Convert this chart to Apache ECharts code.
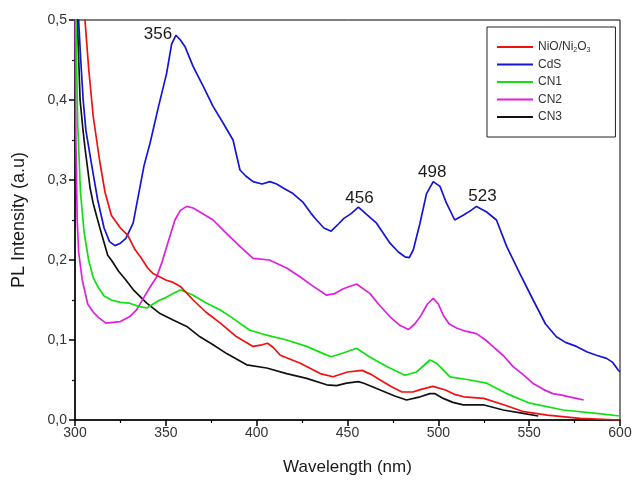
<!DOCTYPE html>
<html>
<head>
<meta charset="utf-8">
<script src="https://cdn.jsdelivr.net/npm/echarts@6/dist/echarts.min.js"></script>
<style>html,body{margin:0;padding:0;background:#fff}#c{width:635px;height:482px}</style>
</head>
<body>
<div id="c"></div>
<script>
// ---- data (wavelength nm, PL intensity a.u.) ----
var seriesNames = ['NiO/Ni2O3', 'CdS', 'CN1', 'CN2', 'CN3'];
var xTicks = [300, 350, 400, 450, 500, 550, 600];
var yTicks = [0.0, 0.1, 0.2, 0.3, 0.4, 0.5];

var nioData = [
  [300,0.66],[303,0.56],[305.5,0.5],[307.5,0.44],[310,0.38],[313.5,0.325],[316.5,0.285],[320,0.256],
  [325,0.24],[329,0.231],[333,0.213],[336,0.204],[340,0.19],[343,0.183],[350,0.175],[354,0.172],[358,0.167],
  [365,0.15],[372,0.135],[380,0.121],[389,0.104],[398,0.092],[403,0.094],[406,0.096],[409,0.091],[413,0.081],
  [424,0.071],[435,0.058],[442,0.054],[450,0.06],[458,0.062],[463,0.057],[468,0.05],[474,0.042],[480,0.035],[486,0.035],
  [490,0.038],[497,0.042],[504,0.0375],[509,0.032],[514,0.029],[525,0.027],[536,0.019],[547,0.0104],
  [560,0.006],[578,0.002],[600,0.0]
];
var cdsData = [
  [300,0.58],[302,0.5],[303,0.456],[304.5,0.4],[306,0.362],[309,0.321],[312.5,0.275],[316,0.24],[319,0.223],
  [322,0.218],[325,0.221],[328,0.227],[332,0.246],[335,0.282],[338,0.318],[341.3,0.346],[346,0.392],
  [350.4,0.433],[353.2,0.47],[355.6,0.481],[358,0.475],[360.5,0.467],[365,0.442],[370.6,0.417],[376,0.392],
  [381.6,0.371],[387,0.35],[390.8,0.3125],[394,0.305],[398,0.298],[403,0.295],[407.3,0.298],[411,0.295],[414.6,0.29],
  [420,0.283],[425.6,0.272],[430,0.258],[433,0.25],[437,0.24],[441,0.236],[445,0.245],[448,0.252],[452,0.258],
  [456,0.266],[460,0.258],[466,0.246],[473.4,0.221],[478,0.21],[481.6,0.204],[484,0.203],[486.2,0.2125],
  [489.9,0.246],[493.5,0.283],[497.2,0.298],[500.9,0.292],[504.5,0.271],[509,0.25],[513.7,0.256],[518,0.262],
  [521,0.267],[526.6,0.26],[532,0.25],[537.6,0.217],[544.9,0.183],[552.2,0.15],[559,0.12],[565,0.104],
  [570,0.097],[576,0.092],[582,0.085],[587,0.081],[592.6,0.077],[596,0.072],[599,0.0625],[600,0.06]
];
var cn1Data = [
  [300,0.56],[300.8,0.46],[301.5,0.37],[303,0.285],[305,0.235],[307.5,0.2],[310,0.178],[313,0.165],[316,0.155],
  [320,0.15],[325,0.147],[330,0.146],[335,0.142],[339.5,0.14],[343,0.145],[346.8,0.15],[350,0.153],[354,0.158],
  [358,0.1625],[361,0.16],[365,0.156],[372.5,0.146],[380,0.1375],[387,0.127],[396,0.1125],[405.5,0.106],
  [416.5,0.1],[427.5,0.092],[436.7,0.083],[441,0.079],[448,0.084],[455,0.0896],[462,0.079],[471.6,0.067],
  [481.6,0.056],[488,0.06],[495.4,0.075],[499,0.071],[506.4,0.054],[517.4,0.05],[526.6,0.046],[537.6,0.033],
  [550.4,0.021],[568.7,0.0125],[587,0.0083],[600,0.005]
];
var cn2Data = [
  [300,0.55],[300.5,0.35],[301.2,0.25],[302,0.21],[304,0.175],[307,0.145],[310,0.135],[313,0.128],[317,0.121],
  [321,0.122],[325,0.123],[330,0.129],[334,0.138],[337.6,0.152],[341,0.165],[345,0.179],[348,0.198],
  [350.5,0.217],[355,0.25],[358,0.262],[361.5,0.267],[365,0.265],[368.8,0.26],[376,0.25],[383.5,0.233],
  [390.8,0.217],[398,0.202],[407,0.2],[416.5,0.19],[423.8,0.179],[431.2,0.167],[438.5,0.156],[443,0.158],
  [447.7,0.164],[455,0.17],[462.4,0.158],[467,0.145],[473.4,0.129],[479,0.118],[483.5,0.113],[487,0.12],
  [490,0.129],[494,0.145],[497.2,0.152],[500,0.145],[502.7,0.131],[506,0.12],[510,0.115],[515,0.111],
  [521,0.108],[526,0.1],[530,0.092],[536,0.08],[541,0.067],[547,0.056],[552,0.046],[558,0.038],[563,0.033],
  [568,0.031],[572,0.029],[576,0.027],[580,0.025]
];
var cn3Data = [
  [300,0.58],[301.3,0.5],[302.8,0.4],[304.4,0.3625],[305.5,0.34],[307.2,0.31],[308.3,0.29],[310,0.271],
  [312,0.254],[313.7,0.24],[315.6,0.225],[318,0.206],[320,0.2],[324,0.186],[328,0.175],[332,0.163],
  [339.5,0.146],[346.8,0.133],[354,0.125],[361.5,0.117],[368.8,0.104],[376,0.094],[383.5,0.083],[394.5,0.069],
  [405.5,0.065],[416.5,0.058],[427.5,0.052],[438.5,0.044],[444,0.043],[449.5,0.046],[456,0.048],[459,0.046],
  [468,0.0375],[476,0.03],[482.5,0.025],[490,0.029],[495.4,0.033],[498,0.033],[502.7,0.027],[508,0.022],
  [513.7,0.019],[524.7,0.019],[535.7,0.0125],[546.7,0.0083],[555,0.005]
];
var peakWavelengths = [356, 456, 498, 523];

// ---- chart ----
var colors = ['#f01010', '#1515d8', '#10e010', '#dd20dd', '#111111'];
var seriesData = [nioData, cdsData, cn1Data, cn2Data, cn3Data];

function nearestValue(data, x) {
  var best = data[0], d = Infinity;
  data.forEach(function (p) { var dd = Math.abs(p[0] - x); if (dd < d) { d = dd; best = p; } });
  return best;
}
var peakOffsets = [[-18, -1], [1, -9], [-1, -9], [6, -10]];
var peakMarks = peakWavelengths.map(function (w, i) {
  var p = nearestValue(cdsData, w);
  return { coord: [p[0], p[1]], value: String(w), label: { offset: peakOffsets[i] } };
});

var chart = echarts.init(document.getElementById('c'), null, { renderer: 'canvas' });
var series = seriesNames.map(function (n, i) {
  var s = {
    name: n, type: 'line', data: seriesData[i], showSymbol: false, symbol: 'none', clip: true,
    lineStyle: { color: colors[i], width: 1.7 }, itemStyle: { color: colors[i] }, z: 10 - i
  };
  if (n === 'CdS') {
    s.markPoint = {
      symbol: 'rect', symbolSize: [1, 1], itemStyle: { color: 'rgba(0,0,0,0)' }, silent: true,
      label: { show: true, position: 'inside', color: '#1a1a1a', fontSize: 17, fontFamily: 'Liberation Sans, Arial', formatter: '{c}' },
      data: peakMarks
    };
  }
  return s;
});

chart.setOption({
  animation: false,
  backgroundColor: '#ffffff',
  grid: { left: 75, right: 15, top: 20, bottom: 62, show: true, borderColor: '#000', borderWidth: 1, backgroundColor: 'transparent' },
  legend: {
    orient: 'vertical', left: 487, top: 27, padding: [13, 25, 13, 10],
    borderColor: '#222', borderWidth: 1, backgroundColor: '#fff',
    itemWidth: 36, itemHeight: 2, itemGap: 3.5, icon: 'rect',
    data: seriesNames,
    formatter: function (n) { return n === 'NiO/Ni2O3' ? '{a|NiO/Ni}{s|2}{a|O}{s|3}' : '{a|' + n + '}'; },
    textStyle: {
      color: '#333', fontSize: 12, fontFamily: 'Liberation Sans, Arial', lineHeight: 14,
      rich: {
        a: { fontSize: 12, color: '#333', fontFamily: 'Liberation Sans, Arial', lineHeight: 14 },
        s: { fontSize: 7, color: '#333', fontFamily: 'Liberation Sans, Arial', lineHeight: 14, verticalAlign: 'bottom', padding: [5, 0, 0, 0] }
      }
    }
  },
  xAxis: {
    type: 'value', min: xTicks[0], max: xTicks[xTicks.length - 1], interval: 50,
    name: 'Wavelength (nm)', nameLocation: 'middle', nameGap: 39,
    nameTextStyle: { fontSize: 17, color: '#1a1a1a', fontFamily: 'Liberation Sans, Arial' },
    axisLine: { lineStyle: { color: '#000', width: 1.5 } },
    axisTick: { inside: false, length: 6, lineStyle: { color: '#000', width: 1.5 } },
    minorTick: { show: true, splitNumber: 2, length: 3, lineStyle: { color: '#000', width: 1.2 } },
    axisLabel: { fontSize: 14, color: '#333', margin: 6, fontFamily: 'Liberation Sans, Arial' },
    splitLine: { show: false }
  },
  yAxis: {
    type: 'value', min: yTicks[0], max: yTicks[yTicks.length - 1], interval: 0.1,
    name: 'PL Intensity (a.u)', nameLocation: 'middle', nameGap: 47,
    nameTextStyle: { fontSize: 18, color: '#1a1a1a', fontFamily: 'Liberation Sans, Arial' },
    axisLine: { lineStyle: { color: '#000', width: 1.5 } },
    axisTick: { inside: false, length: 6, lineStyle: { color: '#000', width: 1.5 } },
    minorTick: { show: true, splitNumber: 2, length: 3, lineStyle: { color: '#000', width: 1.2 } },
    axisLabel: { fontSize: 14, color: '#333', margin: 8, fontFamily: 'Liberation Sans, Arial',
      formatter: function (v) { return v.toFixed(1).replace('.', ','); } },
    splitLine: { show: false }
  },
  series: series
});
</script>
</body>
</html>
